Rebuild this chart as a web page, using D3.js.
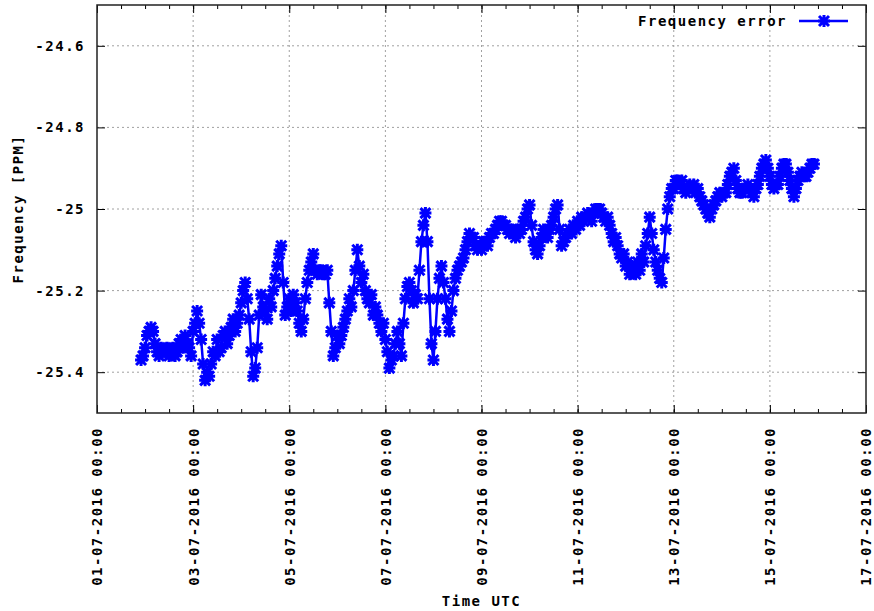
<!DOCTYPE html>
<html lang="en">

<head>
    <meta charset="UTF-8">
    <title>Frequency error</title>
    <style>
        body {
            margin: 0;
            background: #fff;
            overflow: hidden;
        }

        text {
            font-family: "DejaVu Sans Mono", "Liberation Mono", monospace;
            font-weight: bold;
            font-size: 14px;
            letter-spacing: 1.5px;
            fill: #000;
        }
    </style>
</head>

<body>
    <div id="container"></div>

    <script type="text/javascript" src="https://d3js.org/d3.v7.min.js"></script>
    <script type="text/javascript">
        // Samples start at this time and come every hour.
        var startTime = "2016-07-01 22:00";
        var stepHours = 1;

        // Frequency error [PPM].
        var freqValues = [
            -25.37, -25.36, -25.34, -25.31, -25.30, -25.29, -25.30, -25.33, -25.35, -25.36,
            -25.34, -25.35, -25.35, -25.34, -25.36, -25.35, -25.34, -25.36, -25.35, -25.33,
            -25.32, -25.34, -25.31, -25.33, -25.34, -25.36, -25.30, -25.28, -25.25, -25.28,
            -25.32, -25.38, -25.42, -25.40, -25.41, -25.38, -25.35, -25.36, -25.32, -25.35,
            -25.34, -25.31, -25.30, -25.33, -25.31, -25.29, -25.27, -25.30, -25.28, -25.26,
            -25.23, -25.20, -25.18, -25.22, -25.27, -25.35, -25.41, -25.39, -25.34, -25.26,
            -25.21, -25.24, -25.25, -25.27, -25.22, -25.24, -25.20, -25.17, -25.14, -25.11,
            -25.09, -25.18, -25.26, -25.24, -25.22, -25.25, -25.21, -25.23, -25.25, -25.28,
            -25.30, -25.27, -25.22, -25.18, -25.15, -25.13, -25.11, -25.15, -25.16, -25.15,
            -25.15, -25.16, -25.16, -25.15, -25.23, -25.30, -25.36, -25.34, -25.31, -25.33,
            -25.31, -25.29, -25.27, -25.25, -25.22, -25.24, -25.20, -25.15, -25.10, -25.14,
            -25.18, -25.16, -25.20, -25.22, -25.23, -25.21, -25.26, -25.24, -25.26, -25.28,
            -25.30, -25.28, -25.32, -25.35, -25.39, -25.37, -25.36, -25.33, -25.30, -25.33,
            -25.36, -25.28, -25.22, -25.19, -25.18, -25.20, -25.23, -25.21, -25.22, -25.15,
            -25.08, -25.04, -25.01, -25.08, -25.22, -25.33, -25.37, -25.30, -25.22, -25.17,
            -25.14, -25.18, -25.22, -25.27, -25.30, -25.25, -25.20, -25.17, -25.15, -25.14,
            -25.13, -25.12, -25.10, -25.08, -25.06, -25.07, -25.07, -25.09, -25.10, -25.09,
            -25.10, -25.08, -25.08, -25.09, -25.07, -25.06, -25.06, -25.05, -25.04, -25.03,
            -25.03, -25.04, -25.04, -25.05, -25.06, -25.05, -25.06, -25.07, -25.05, -25.06,
            -25.05, -25.03, -25.02, -25.00, -24.99, -25.04, -25.08, -25.10, -25.11, -25.09,
            -25.07, -25.05, -25.06, -25.07, -25.05, -25.04, -25.02, -25.00, -24.99, -25.05,
            -25.09, -25.08, -25.07, -25.06, -25.05, -25.06, -25.04, -25.05, -25.03, -25.04,
            -25.02, -25.03, -25.02, -25.01, -25.02, -25.03, -25.01, -25.00, -25.00, -25.00,
            -25.01, -25.02, -25.03, -25.02, -25.04, -25.06, -25.08, -25.07, -25.09, -25.11,
            -25.12, -25.11, -25.14, -25.13, -25.16, -25.14, -25.15, -25.16, -25.13, -25.15,
            -25.11, -25.13, -25.09, -25.06, -25.02, -25.06, -25.10, -25.13, -25.15, -25.17,
            -25.18, -25.12, -25.05, -25.00, -24.97, -24.95, -24.95, -24.93, -24.93, -24.94,
            -24.93, -24.95, -24.96, -24.95, -24.94, -24.95, -24.94, -24.96, -24.95, -24.97,
            -24.98, -24.99, -25.00, -25.01, -25.02, -25.00, -24.99, -24.98, -24.97, -24.96,
            -24.97, -24.96, -24.96, -24.94, -24.92, -24.91, -24.90, -24.93, -24.95, -24.96,
            -24.96, -24.95, -24.95, -24.94, -24.95, -24.96, -24.97, -24.95, -24.94, -24.92,
            -24.90, -24.89, -24.88, -24.90, -24.92, -24.94, -24.95, -24.94, -24.94, -24.92,
            -24.90, -24.89, -24.89, -24.91, -24.93, -24.95, -24.97, -24.95, -24.93, -24.92,
            -24.91, -24.92, -24.92, -24.91, -24.90, -24.89, -24.89
        ];

        var xDomain = ["2016-07-01 00:00", "2016-07-17 00:00"];
        var yDomain = [-25.5, -24.5];
        var yTicks = [-24.6, -24.8, -25.0, -25.2, -25.4];
        var seriesName = "Frequency error";

        var width = 874, height = 611;
        var margin = { top: 5, right: 8, bottom: 198, left: 97 };
        var plotW = width - margin.left - margin.right;
        var plotH = height - margin.top - margin.bottom;

        var parseTime = d3.utcParse("%Y-%m-%d %H:%M");
        var t0 = parseTime(startTime);
        var data = freqValues.map(function (v, i) {
            return { t: d3.utcHour.offset(t0, i * stepHours), v: v };
        });

        var svg = d3.select("#container")
            .append("svg")
            .attr("width", width)
            .attr("height", height);

        var g = svg.append("g")
            .attr("transform", "translate(" + margin.left + "," + margin.top + ")");

        var x = d3.scaleUtc()
            .domain(xDomain.map(parseTime))
            .range([0, plotW]);

        var y = d3.scaleLinear()
            .domain(yDomain)
            .range([plotH, 0]);

        var majorTicks = d3.utcDay.every(2).range(x.domain()[0], d3.utcHour.offset(x.domain()[1], 1));
        var minorTicks = d3.utcHour.every(12).range(x.domain()[0], x.domain()[1]);
        var fmtTime = d3.utcFormat("%d-%m-%Y %H:%M");
        var fmtY = function (d) { return String(+d.toFixed(1)); };

        // Dotted grid lines.
        g.append("g")
            .selectAll("line")
            .data(majorTicks.slice(1, -1))
            .enter().append("line")
            .attr("x1", function (d) { return x(d); })
            .attr("x2", function (d) { return x(d); })
            .attr("y1", 0).attr("y2", plotH)
            .attr("stroke", "#a0a0a0").attr("stroke-dasharray", "2,3");

        g.append("g")
            .selectAll("line")
            .data(yTicks)
            .enter().append("line")
            .attr("x1", 0).attr("x2", plotW)
            .attr("y1", function (d) { return y(d); })
            .attr("y2", function (d) { return y(d); })
            .attr("stroke", "#a0a0a0").attr("stroke-dasharray", "2,3");

        // Axes, ticks pointing inward on all four sides.
        function styleAxis(sel) {
            sel.attr("font-family", null).attr("font-size", null);
            sel.select(".domain").remove();
            sel.selectAll(".tick line").attr("stroke", "#000").attr("stroke-width", 1);
        }

        var xAxis = g.append("g")
            .attr("transform", "translate(0," + plotH + ")")
            .call(d3.axisBottom(x).tickValues(majorTicks).tickSize(-8).tickFormat(fmtTime))
            .call(styleAxis);

        xAxis.selectAll("text")
            .attr("y", 0)
            .attr("x", -14)
            .attr("dy", "0.35em")
            .attr("transform", "rotate(-90)")
            .style("text-anchor", "end");

        g.append("g")
            .attr("transform", "translate(0," + plotH + ")")
            .call(d3.axisBottom(x).tickValues(minorTicks).tickSize(-4).tickFormat(""))
            .call(styleAxis);

        g.append("g")
            .call(d3.axisTop(x).tickValues(majorTicks).tickSize(-8).tickFormat(""))
            .call(styleAxis);

        g.append("g")
            .call(d3.axisTop(x).tickValues(minorTicks).tickSize(-4).tickFormat(""))
            .call(styleAxis);

        g.append("g")
            .call(d3.axisLeft(y).tickValues(yTicks).tickSize(-8).tickPadding(12).tickFormat(fmtY))
            .call(styleAxis);

        g.append("g")
            .attr("transform", "translate(" + plotW + ",0)")
            .call(d3.axisRight(y).tickValues(yTicks).tickSize(-8).tickFormat(""))
            .call(styleAxis);

        // Border.
        g.append("rect")
            .attr("width", plotW).attr("height", plotH)
            .attr("fill", "none")
            .attr("stroke", "#222").attr("stroke-width", 1.5);

        // Series: line plus asterisk points (heavy, like the gnuplot png terminal).
        var star = "M-6,0H6M0,-6V6M-5,-5L5,5M-5,5L5,-5";

        var line = d3.line()
            .x(function (d) { return x(d.t); })
            .y(function (d) { return y(d.v); });

        g.append("path")
            .datum(data)
            .attr("d", line)
            .attr("fill", "none")
            .attr("stroke", "#0000ff")
            .attr("stroke-width", 2.5);

        g.append("g")
            .selectAll("path")
            .data(data)
            .enter().append("path")
            .attr("transform", function (d) { return "translate(" + x(d.t) + "," + y(d.v) + ")"; })
            .attr("d", star)
            .attr("fill", "none")
            .attr("stroke", "#0000ff")
            .attr("stroke-width", 3);

        // Legend.
        var legend = svg.append("g").attr("transform", "translate(0,21)");
        legend.append("text")
            .attr("x", 787).attr("dy", "0.35em")
            .attr("text-anchor", "end")
            .text(seriesName);
        legend.append("line")
            .attr("x1", 799).attr("x2", 848)
            .attr("stroke", "#0000ff").attr("stroke-width", 2.5);
        legend.append("path")
            .attr("transform", "translate(824,0)")
            .attr("d", star)
            .attr("fill", "none")
            .attr("stroke", "#0000ff")
            .attr("stroke-width", 3);

        // Axis titles.
        svg.append("text")
            .attr("transform", "translate(18," + (margin.top + plotH / 2) + ") rotate(-90)")
            .attr("dy", "0.35em")
            .attr("text-anchor", "middle")
            .text("Frequency [PPM]");

        svg.append("text")
            .attr("x", margin.left + plotW / 2)
            .attr("y", 601)
            .attr("dy", "0.35em")
            .attr("text-anchor", "middle")
            .text("Time UTC");
    </script>
</body>

</html>
